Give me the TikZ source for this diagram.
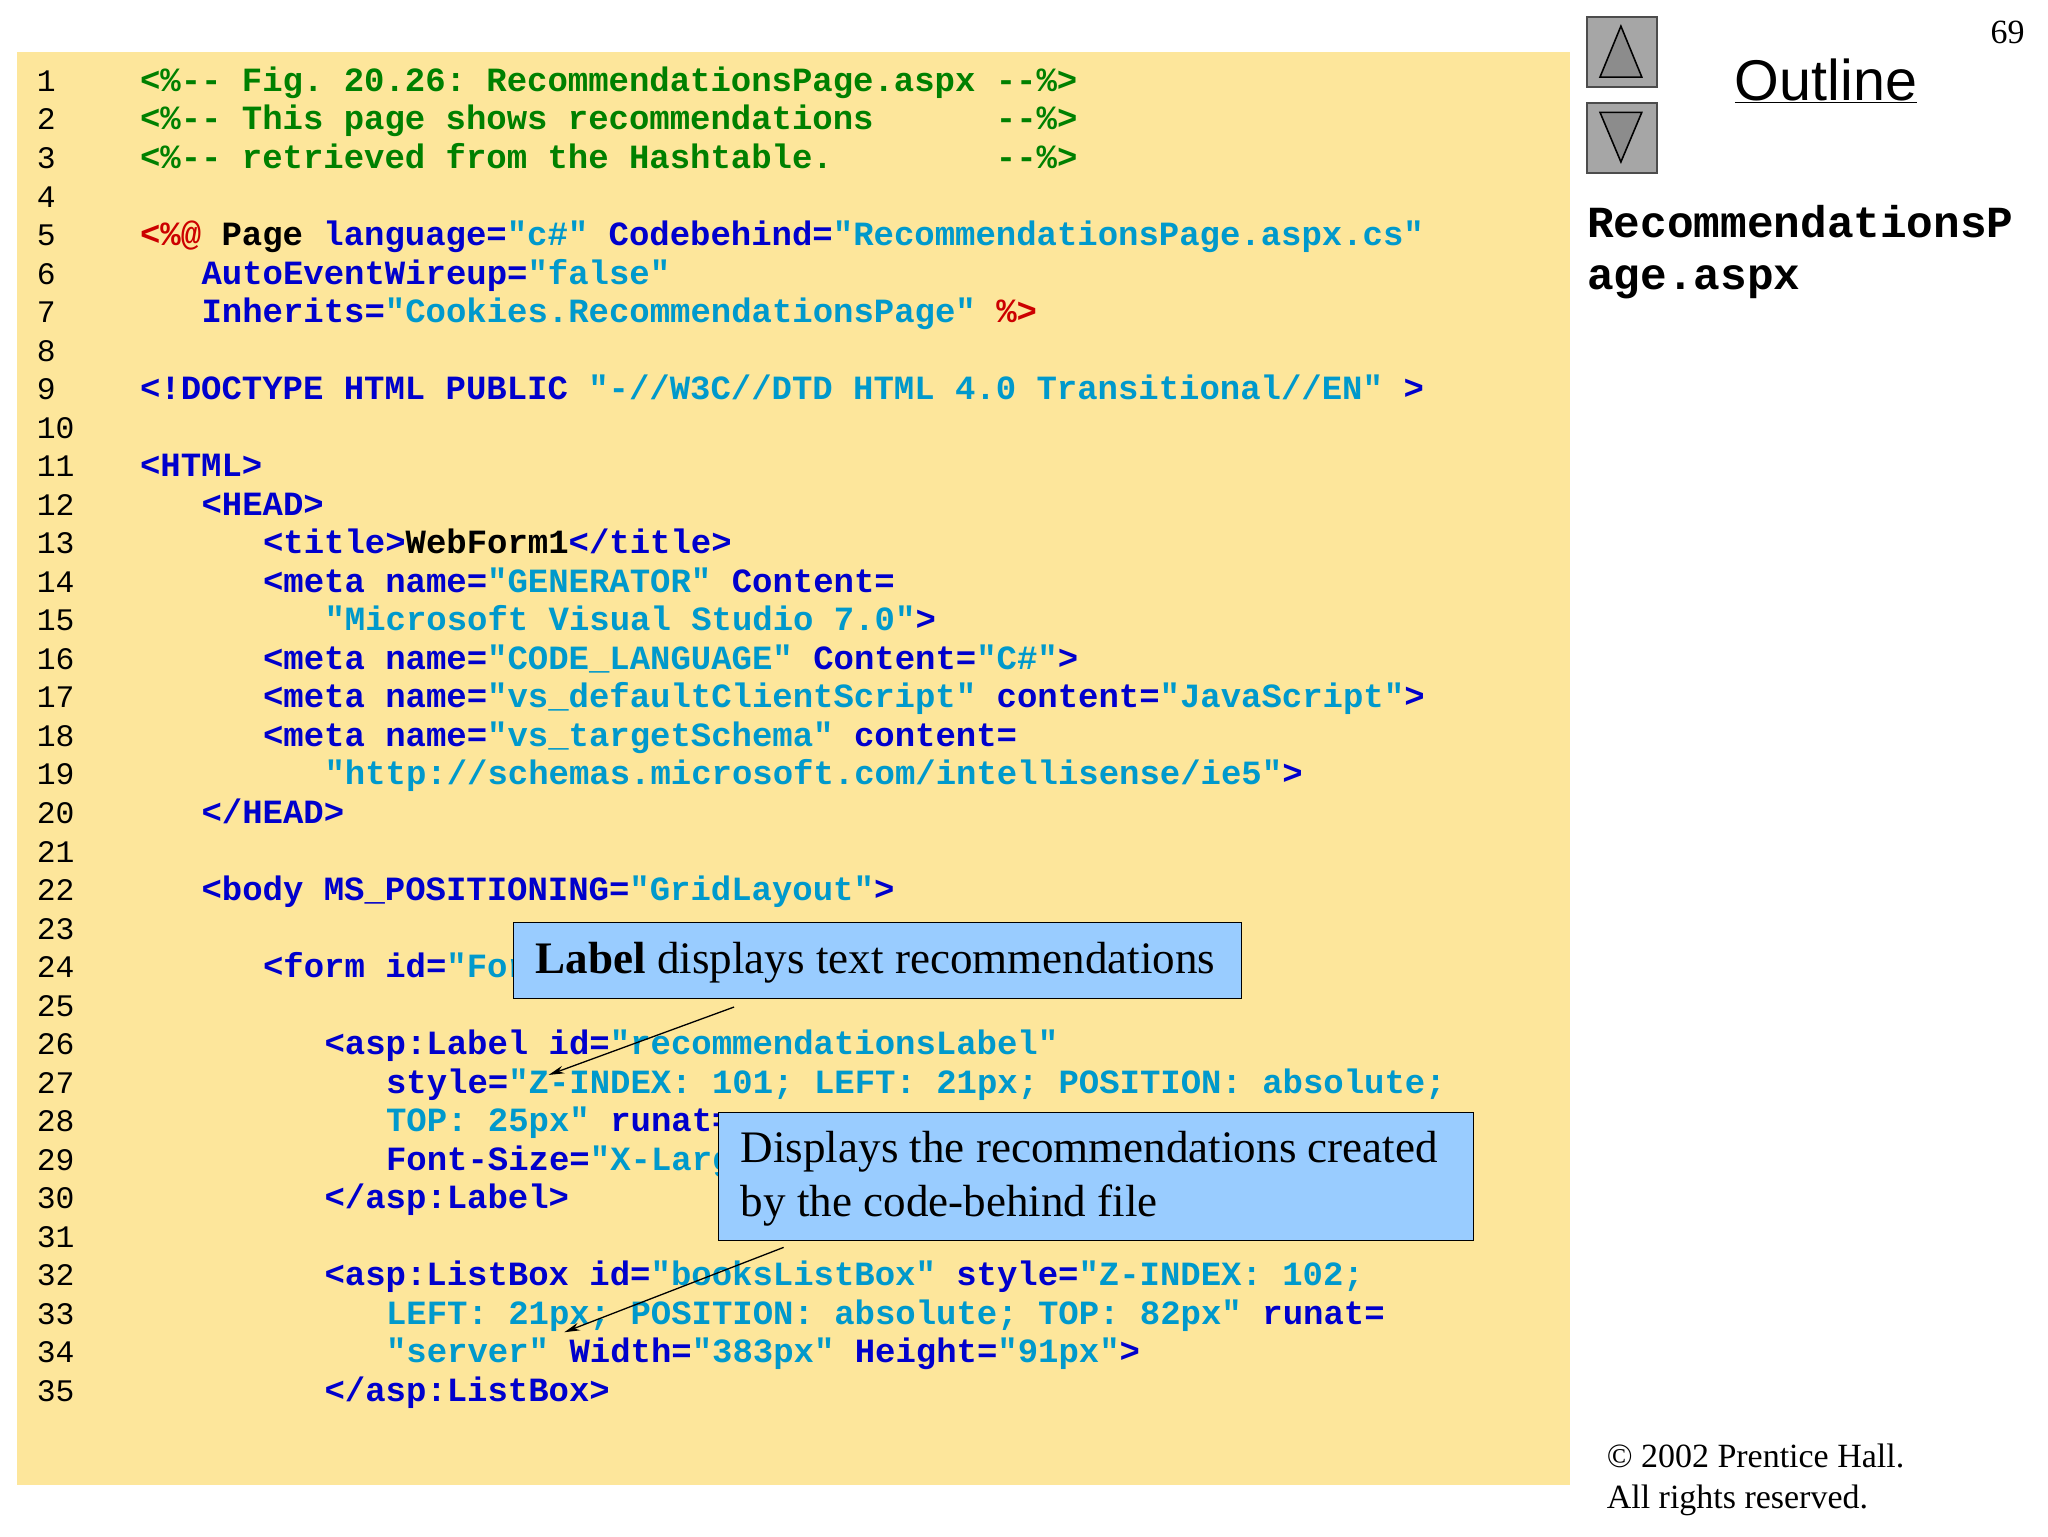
\documentclass[tikz,border=0pt]{standalone}
\usepackage{fontspec}
\setmainfont{Liberation Serif}
\newfontfamily\codef{Liberation Mono}
\newfontfamily\sansf{Liberation Sans}
\usetikzlibrary{arrows.meta}
\definecolor{bgy}{RGB}{253,230,155}
\definecolor{kw}{RGB}{0,0,204}
\definecolor{st}{RGB}{0,153,204}
\definecolor{cm}{RGB}{0,128,0}
\definecolor{rd}{RGB}{204,0,0}
\definecolor{cb}{RGB}{153,204,255}
\newcommand\K[1]{\textcolor{kw}{#1}}
\newcommand\St[1]{\textcolor{st}{#1}}
\newcommand\Cm[1]{\textcolor{cm}{#1}}
\newcommand\Rd[1]{\textcolor{rd}{#1}}
\newcommand\cl[3]{\node[codeline] (l#1) at ({107+#2*15.7},{-(70+(#1-1)*29.5)}) {#3};}
\frenchspacing
\begin{document}
\begin{tikzpicture}[x=1pt,y=1pt,
 codeline/.style={anchor=base west,inner sep=0,font=\codef\bfseries\fontsize{26}{26}\selectfont},
 num/.style={anchor=base west,inner sep=0,font=\codef\fontsize{24}{24}\selectfont},
 callout/.style={draw=black,line width=0.8pt,fill=cb,anchor=north west,inner sep=0},
 navbtn/.style={draw=black!70,fill=black!35,line width=1.5pt},
 ptr/.style={-{Stealth[length=12pt,width=6pt]},line width=1pt}]
\useasboundingbox (0,0) rectangle (1568,-1176);
\fill[white] (0,0) rectangle (1568,-1176);
\fill[bgy] (13,-40) rectangle (1202,-1137);
\foreach \i in {1,...,35}{\node[num] (n\i) at (28,{-(70+(\i-1)*29.5)}) {\i};}
\cl{1}{0}{\Cm{<\%-{}- Fig. 20.26: RecommendationsPage.aspx -{}-\%>}}
\cl{2}{0}{\Cm{<\%-{}- This page shows recommendations~~~~~~-{}-\%>}}
\cl{3}{0}{\Cm{<\%-{}- retrieved from the Hashtable.~~~~~~~~-{}-\%>}}
\cl{5}{0}{\Rd{<\%@}~Page~\K{language=}\St{"c\#"}~\K{Codebehind=}\St{"RecommendationsPage.aspx.cs"}}
\cl{6}{3}{\K{AutoEventWireup=}\St{"false"}}
\cl{7}{3}{\K{Inherits=}\St{"Cookies.RecommendationsPage"}~\Rd{\%>}}
\cl{9}{0}{\K{<!DOCTYPE~HTML~PUBLIC}~\St{"-//W3C//DTD HTML 4.0 Transitional//EN"}~\K{>}}
\cl{11}{0}{\K{<HTML>}}
\cl{12}{3}{\K{<HEAD>}}
\cl{13}{6}{\K{<title>}WebForm1\K{</title>}}
\cl{14}{6}{\K{<meta~name=}\St{"GENERATOR"}~\K{Content=}}
\cl{15}{9}{\St{"Microsoft Visual Studio 7.0"}\K{>}}
\cl{16}{6}{\K{<meta~name=}\St{"CODE\_LANGUAGE"}~\K{Content=}\St{"C\#"}\K{>}}
\cl{17}{6}{\K{<meta~name=}\St{"vs\_defaultClientScript"}~\K{content=}\St{"JavaScript"}\K{>}}
\cl{18}{6}{\K{<meta~name=}\St{"vs\_targetSchema"}~\K{content=}}
\cl{19}{9}{\St{"http://schemas.microsoft.com/intellisense/ie5"}\K{>}}
\cl{20}{3}{\K{</HEAD>}}
\cl{22}{3}{\K{<body~MS\_POSITIONING=}\St{"GridLayout"}\K{>}}
\cl{24}{6}{\K{<form~id=}\St{"Form1"}~\K{method=}\St{"post"}~\K{runat=}\St{"server"}\K{>}}
\cl{26}{9}{\K{<asp:Label~id=}\St{"recommendationsLabel"}}
\cl{27}{12}{\K{style=}\St{"Z-INDEX: 101; LEFT: 21px; POSITION: absolute;}}
\cl{28}{12}{\St{TOP: 25px"}~\K{runat=}}
\cl{29}{12}{\K{Font-Size=}\St{"X-Large"}\K{>}}
\cl{30}{9}{\K{</asp:Label>}}
\cl{32}{9}{\K{<asp:ListBox~id=}\St{"booksListBox"}~\K{style=}\St{"Z-INDEX: 102;}}
\cl{33}{12}{\St{LEFT: 21px; POSITION: absolute; TOP: 82px"}~\K{runat=}}
\cl{34}{12}{\St{"server"}~\K{Width=}\St{"383px"}~\K{Height=}\St{"91px"}\K{>}}
\cl{35}{9}{\K{</asp:ListBox>}}
% callouts
\node[callout,minimum width=557pt,minimum height=58pt] (c1) at (393,-706) {};
\node[anchor=west,inner sep=0,font=\fontsize{34.5}{34.5}\selectfont] (t1) at (410,-737) {\textbf{Label} displays text recommendations};
\node[callout,minimum width=578pt,minimum height=98pt] (c2) at (550,-851) {};
\node[anchor=north west,inner sep=0,align=left,font=\fontsize{34.5}{41}\selectfont] (t2) at (567,-866) {Displays the recommendations created\\by the code-behind file};
\coordinate (a1) at (562,-771); \coordinate (b1) at (420,-823);
\coordinate (a2) at (600,-955); \coordinate (b2) at (432,-1020);
\draw[ptr] (a1) -- (b1);
\draw[ptr] (a2) -- (b2);
% right side
\node[navbtn,minimum width=54pt,minimum height=54pt,anchor=north west] (up) at (1214,-12) {};
\node[navbtn,minimum width=54pt,minimum height=54pt,anchor=north west] (dn) at (1214,-78) {};
\draw[line width=1.2pt,fill=black!45] (1225,-59) -- (1257,-59) -- (1241,-20) -- cycle;
\draw[line width=1.2pt,fill=black!45] (1225,-86) -- (1257,-86) -- (1241,-124) -- cycle;
\node[inner sep=0,font=\sansf\fontsize{44}{44}\selectfont] (ol) at (1398,-62) {\underline{Outline}};
\node[inner sep=0,font=\fontsize{26}{26}\selectfont] (pg) at (1537,-25) {69};
\node[anchor=north west,inner sep=0,align=left,font=\codef\bfseries\fontsize{34}{40}\selectfont] (fn) at (1215,-157) {RecommendationsP\\age.aspx};
\node[anchor=north west,inner sep=0,align=left,font=\fontsize{26}{32}\selectfont] (cp) at (1230,-1105) {\textcopyright{} 2002 Prentice Hall.\\All rights reserved.};
\end{tikzpicture}
\end{document}
